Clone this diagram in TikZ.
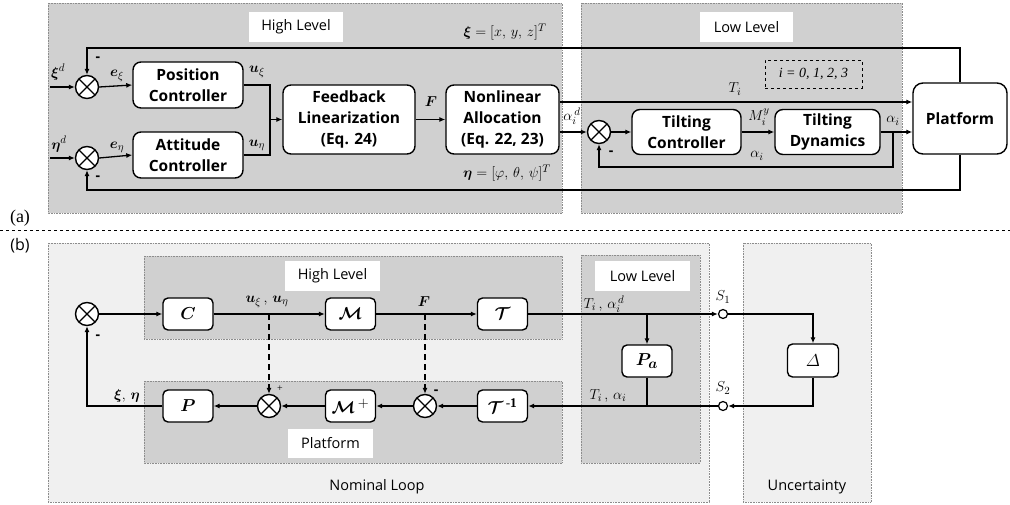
\documentclass[tikz,border=0pt]{standalone}
\usepackage{amsmath,bm}
\usepackage{fontspec}
\setmainfont{Liberation Serif}
\newfontfamily\labfont{Open Sans}
\usetikzlibrary{arrows.meta,calc}
\definecolor{panelA}{RGB}{208,208,208}
\definecolor{panelL}{RGB}{240,240,240}
\definecolor{panelB}{RGB}{208,208,208}
\tikzset{
  arr/.style={-{Latex[length=6pt,width=5pt]}},
  dsh/.style={dash pattern=on 6pt off 4pt},
  panel/.style={draw=black!45, densely dotted, line width=0.6pt},
  blkA/.style={draw, rounded corners=8pt, fill=white, line width=1.4pt, align=center, inner sep=0pt,
     font=\labfont\fontsize{15.5}{21}\selectfont\bfseries},
  blkB/.style={draw, rounded corners=5pt, fill=white, line width=1.4pt, align=center, inner sep=0pt,
     minimum width=50pt, minimum height=32pt, font=\fontsize{19}{22}\selectfont},
  sumj/.style={circle, draw, fill=white, line width=1.4pt, minimum size=23pt, inner sep=0pt,
     path picture={\draw[line width=1.4pt] (path picture bounding box.north west)--(path picture bounding box.south east)
        (path picture bounding box.north east)--(path picture bounding box.south west);}},
  sw/.style={circle, draw, fill=white, line width=1.2pt, minimum size=9pt, inner sep=0pt},
  lvl/.style={fill=white, inner sep=0pt, font=\labfont\fontsize{14.5}{17}\selectfont},
  ml/.style={inner sep=0pt, font=\fontsize{15}{17}\selectfont},
  sign/.style={inner sep=0pt, font=\labfont\fontsize{14}{16}\selectfont\bfseries}
}
\begin{document}
\begin{tikzpicture}[x=1pt, y=-1pt, line width=1.3pt]
\useasboundingbox (0,0) rectangle (1010,505);
% ---------- (a) panels
\path[panel, fill=panelA] (48,3) rectangle (562,213);
\path[panel, fill=panelA] (581,3) rectangle (902,213);
\node[lvl, minimum width=94pt, minimum height=30pt] (hlA) at (296,27) {High Level};
\node[lvl, minimum width=93pt, minimum height=30pt] (llA) at (746.5,27) {Low Level};
\node[draw, dashed, line width=0.8pt, minimum width=97pt, minimum height=28pt, inner sep=0pt,
      font=\itshape\fontsize{14}{16}\selectfont] (iset) at (813.5,74) {i = 0, 1, 2, 3};
\node[inner sep=0pt, font=\fontsize{18}{20}\selectfont] (la) at (20,218) {(a)};
% ---------- (a) blocks
\node[sumj] (s1) at (87,87) {};
\node[sumj] (s2) at (87,158) {};
\node[blkA, minimum width=110pt, minimum height=46pt] (pc) at (188,85) {Position\\Controller};
\node[blkA, minimum width=110pt, minimum height=46pt] (ac) at (188,155) {Attitude\\Controller};
\node[blkA, minimum width=132pt, minimum height=69pt] (fl) at (349,119.5) {Feedback\\Linearization\\(Eq. 24)};
\node[blkA, minimum width=113pt, minimum height=69pt] (na) at (502.5,119.5) {Nonlinear\\Allocation\\(Eq. 22, 23)};
\node[sumj] (s3) at (599,132) {};
\node[blkA, minimum width=109pt, minimum height=45pt] (tc) at (686.5,132) {Tilting\\Controller};
\node[blkA, minimum width=105pt, minimum height=45pt] (td) at (827.5,132) {Tilting\\Dynamics};
\node[blkA, minimum width=94pt, minimum height=71pt, rounded corners=10pt] (pf) at (960,118.5) {Platform};
\coordinate (xin) at (50,87);
\coordinate (ein) at (50,158);
\coordinate (jz) at (270,119.5);
\coordinate (topy) at (0,48);
\coordinate (boty) at (0,190);
\coordinate (fb) at (893,132);
\coordinate (fbd) at (893,167);
% ---------- (a) connectors
\draw[arr] (xin) -- (s1.west);
\draw[arr] (ein) -- (s2.west);
\draw[arr] (s1.east) -- (pc.west);
\draw[arr] (s2.east) -- (ac.west);
\draw (pc.east) -| (jz);
\draw (ac.east) -| (jz);
\draw[arr] (jz) -- (fl.west);
\draw[arr] (fl.east) -- (na.west);
\draw[arr] ([yshift=17.5pt]na.east) -- ([yshift=17.5pt]na.east -| pf.west);
\draw[arr] (s3.west -| na.east) -- (s3.west);
\draw[arr] (s3.east) -- (tc.west);
\draw[arr] (tc.east) -- (td.west);
\draw[arr] (td.east) -- (td.east -| pf.west);
\draw[arr] (fb) -- (fbd) -| (s3.south);
\draw[arr] (pf.north) -- (pf.north |- topy) -| (s1.north);
\draw[arr] (pf.south) -- (pf.south |- boty) -| (s2.south);
% ---------- (a) labels
\node[ml] (lxd) at (58,72) {$\boldsymbol{\xi}^{d}$};
\node[ml] (led) at (59,144) {$\boldsymbol{\eta}^{d}$};
\node[sign] (m1) at (98,59) {-};
\node[sign] (m2) at (98,178) {-};
\node[ml] (lex) at (117,76) {$\boldsymbol{e}_{\xi}$};
\node[ml] (lee) at (117,147) {$\boldsymbol{e}_{\eta}$};
\node[ml] (lux) at (257,72) {$\boldsymbol{u}_{\xi}$};
\node[ml] (lue) at (257,145) {$\boldsymbol{u}_{\eta}$};
\node[ml] (lF) at (431,102) {$\boldsymbol{F}$};
\node[ml] (lxi) at (505,32) {$\boldsymbol{\xi} = [x,\,y,\,z]^{T}$};
\node[ml] (leta) at (507,173) {$\boldsymbol{\eta} = [\varphi,\,\theta,\,\psi]^{T}$};
\node[ml] (lTi) at (735,89) {$T_i$};
\node[ml] (lad) at (572,116) {$\alpha_i^{\,d}$};
\node[sign] (m3) at (611,153) {-};
\node[ml] (lMy) at (759,117) {$M_i^{y}$};
\node[ml] (lai) at (893,121) {$\alpha_i$};
\node[ml] (lai2) at (757,156) {$\alpha_i$};
% ---------- separator
\draw[dashed, line width=0.8pt] (0,230) -- (1010,230);
% ---------- (b) panels
\node[inner sep=0pt, font=\labfont\fontsize{16}{18}\selectfont] (lb) at (20,246) {(b)};
\path[panel, fill=panelL] (48,243) rectangle (709,502);
\path[panel, fill=panelL] (743,243) rectangle (871,502);
\path[panel, fill=panelB] (144,256) rectangle (562,339);
\path[panel, fill=panelB] (144,381) rectangle (562,463);
\path[panel, fill=panelB] (581,255) rectangle (700,463);
\node[lvl, minimum width=95pt, minimum height=30pt] (hlB) at (332.5,276) {High Level};
\node[lvl, minimum width=85pt, minimum height=29pt] (plB) at (330.5,443.5) {Platform};
\node[lvl, minimum width=95pt, minimum height=30pt] (llB) at (642.5,276) {Low Level};
\node[inner sep=0pt, font=\labfont\fontsize{14.5}{17}\selectfont] (nl) at (377,487) {Nominal Loop};
\node[inner sep=0pt, font=\labfont\fontsize{14.5}{17}\selectfont] (un) at (807,487) {Uncertainty};
% ---------- (b) blocks
\node[sumj] (b0) at (87,314) {};
\node[blkB] (C) at (188,314) {$\boldsymbol{C}$};
\node[blkB] (M) at (350.5,314) {$\boldsymbol{\mathcal{M}}$};
\node[blkB] (T) at (502.5,314) {$\boldsymbol{\mathcal{T}}$};
\node[blkB] (Pa) at (647,361) {$\boldsymbol{P_{a}}$};
\node[sw] (S1) at (723,314) {};
\node[sw] (S2) at (723,406) {};
\node[blkB, minimum width=51pt, minimum height=33pt] (D) at (813,360.5) {$\varDelta$};
\node[blkB] (Ti) at (502.5,406) {$\boldsymbol{\mathcal{T}}^{\,\mathbf{\text{-}1}}$};
\node[sumj] (b2) at (425,406) {};
\node[blkB] (Mp) at (350.5,406) {$\boldsymbol{\mathcal{M}}^{\,\mathbf{+}}$};
\node[sumj] (b1) at (269,406) {};
\node[blkB] (P) at (188,406) {$\boldsymbol{P}$};
\coordinate (br1) at (647,314);
% ---------- (b) connectors
\draw[arr] (b0.east) -- (C.west);
\draw[arr] (C.east) -- (M.west);
\draw[arr] (M.east) -- (T.west);
\draw[arr] (T.east) -- (S1.west);
\draw[arr] (br1) -- (Pa.north);
\draw[arr] (S1.east) -| (D.north);
\draw[arr] (D.south) |- (S2.east);
\draw[arr] (S2.west) -- (Ti.east);
\draw (Pa.south) -- (Pa.south |- S2);
\draw[arr] (Ti.west) -- (b2.east);
\draw[arr] (b2.west) -- (Mp.east);
\draw[arr] (Mp.west) -- (b1.east);
\draw[arr] (b1.west) -- (P.east);
\draw[arr] (P.west) -| (b0.south);
\draw[arr, dsh] (b1 |- C.east) -- (b1.north);
\draw[arr, dsh] (b2 |- M.east) -- (b2.north);
% ---------- (b) labels
\node[ml] (luu) at (267,302) {$\boldsymbol{u}_{\xi}\,,\,\boldsymbol{u}_{\eta}$};
\node[ml] (lFb) at (424,302) {$\boldsymbol{F}$};
\node[ml] (lta) at (604,304) {$T_i\,,\,\alpha_i^{\,d}$};
\node[ml] (lta2) at (608,396) {$T_i\,,\,\alpha_i$};
\node[ml] (lS1) at (723,297) {$S_1$};
\node[ml] (lS2) at (723,388) {$S_2$};
\node[ml] (lxe) at (127,396) {$\boldsymbol{\xi},\,\boldsymbol{\eta}$};
\node[sign] (m4) at (98,337) {-};
\node[ml, font=\fontsize{10}{12}\selectfont] (pl1) at (280,389) {+};
\node[sign] (m5) at (436,392) {-};
\end{tikzpicture}
\end{document}
